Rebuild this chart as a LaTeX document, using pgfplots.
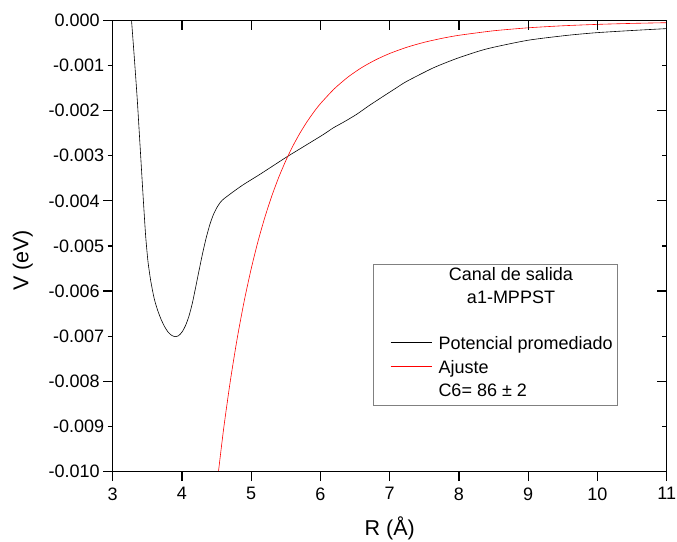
\documentclass[border=0pt]{standalone}
\usepackage{fontspec}
\setmainfont{Liberation Sans}
\usepackage{pgfplots}
\pgfplotsset{compat=1.18}

% Averaged potential of the exit channel (a1-MPPST), R in angstrom, V in eV
\pgfplotstableread{
R      V
3.272  0.0
3.310  -0.00078
3.355  -0.00176
3.400  -0.00290
3.442  -0.00397
3.476  -0.00478
3.510  -0.00535
3.550  -0.00578
3.600  -0.00617
3.650  -0.00643
3.700  -0.00663
3.750  -0.00679
3.800  -0.00691
3.850  -0.00698
3.900  -0.00701
3.950  -0.00699
4.000  -0.00691
4.050  -0.00677
4.100  -0.00656
4.150  -0.00627
4.200  -0.00590
4.250  -0.00552
4.300  -0.00515
4.350  -0.00482
4.400  -0.00454
4.450  -0.00432
4.500  -0.00416
4.550  -0.00404
4.600  -0.00396
4.660  -0.00389
4.720  -0.00382
4.886  -0.00364
5.127  -0.00341
5.498  -0.00304
5.705  -0.002845
6.040  -0.00253
6.186  -0.00238
6.350  -0.00224
6.523  -0.00208
6.700  -0.00189
6.908  -0.00168
7.100  -0.00149
7.245  -0.00135
7.630  -0.00105
7.990  -0.00083
8.400  -0.00063
8.990  -0.00044
9.560  -0.00033
9.990  -0.00027
10.52  -0.00022
11.00  -0.00018
}\promedio

% Dispersion fit, V = -C6/R^6 with C6 = 86
\pgfplotstableread{
R     V
4.50  -0.010357
4.60  -0.009077
4.70  -0.007978
4.80  -0.007031
4.90  -0.006213
5.00  -0.005504
5.10  -0.004887
5.20  -0.004350
5.30  -0.003880
5.40  -0.003468
5.50  -0.003107
5.60  -0.002788
5.70  -0.002508
5.80  -0.002259
5.90  -0.002039
6.00  -0.001843
6.20  -0.001514
6.40  -0.001251
6.60  -0.001040
6.80  -0.000870
7.00  -0.000731
7.25  -0.000592
7.50  -0.000483
7.75  -0.000397
8.00  -0.000328
8.50  -0.000228
9.00  -0.000162
9.50  -0.000117
10.0  -0.000086
10.5  -0.0000642
11.0  -0.0000485
}\ajuste

\pgfplotsset{
  frame/.style={
    width=554bp, height=451bp, scale only axis,
    at={(0,0)}, anchor=south west,
    xmin=3, xmax=11, ymin=-0.010, ymax=0,
    xtick={3,4,5,6,7,8,9,10,11},
    ytick={-0.010,-0.008,-0.006,-0.004,-0.002,0},
    extra y ticks={-0.009,-0.007,-0.005,-0.003,-0.001},
    extra y tick style={major tick length=5bp},
    major tick length=9.5bp,
    minor tick num=0,
    scaled y ticks=false,
    axis line style={line width=1.2bp},
    every tick/.style={black, line width=1.2bp},
  }
}

\begin{document}
\begin{tikzpicture}
\begin{axis}[frame,
  tick align=outside,
  xtick pos=bottom, ytick pos=left,
  /pgf/number format/assume math mode=true,
  tick label style={font=\fontsize{18bp}{21bp}\selectfont},
  xticklabel style={yshift=-3bp},
  yticklabel style={/pgf/number format/.cd, fixed, fixed zerofill, precision=3},
  label style={font=\fontsize{21.5bp}{25bp}\selectfont},
  xlabel={R (Å)}, ylabel={V (eV)},
  xlabel style={at={(axis description cs:0.5,-0.143)}, anchor=base},
  ylabel style={at={(axis description cs:-0.1523,0.4678)}, anchor=base},
]
\addplot[black, line width=0.6bp, smooth, tension=0.4] table[x=R, y=V] {\promedio};
\addplot[red, line width=0.6bp, smooth, tension=0.4] table[x=R, y=V] {\ajuste};
\end{axis}

% mirrored ticks on the top and right edges, pointing inward
\begin{axis}[frame,
  tick align=inside,
  xtick pos=top, ytick pos=right,
  xticklabels={}, yticklabels={}, extra y tick labels={},
]
\end{axis}

% legend box
\begin{scope}[every node/.style={font=\fontsize{18bp}{21bp}\selectfont, inner sep=0pt}]
  \draw[gray, line width=0.8bp, fill=white] (260.3bp,66.5bp) rectangle (504.3bp,207.5bp);
  \node[anchor=base] at (398.3bp,190.8bp) {Canal de salida};
  \node[anchor=base] at (398.3bp,168.2bp) {a1-MPPST};
  \draw[black, line width=0.6bp] (278bp,129.2bp) -- (319bp,129.2bp);
  \node[anchor=base west] at (325.6bp,121.5bp) {Potencial promediado};
  \draw[red, line width=0.6bp] (278bp,105.5bp) -- (319bp,105.5bp);
  \node[anchor=base west] at (325.6bp,98.0bp) {Ajuste};
  \node[anchor=base west] at (325.6bp,74.6bp) {C6= 86 ± 2};
\end{scope}

\pgfresetboundingbox
\path (-112.7bp,-70.5bp) rectangle (564.3bp,471.5bp);
\end{tikzpicture}
\end{document}
